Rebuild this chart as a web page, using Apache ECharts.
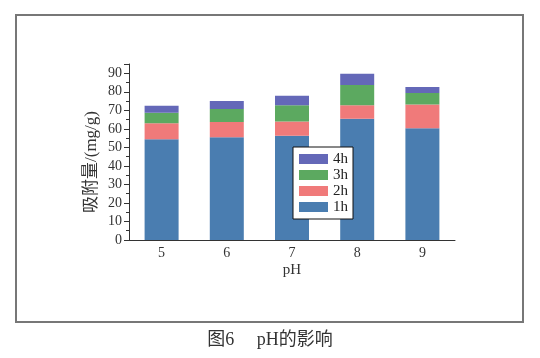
<!DOCTYPE html>
<html><head><meta charset="utf-8">
<script src="https://cdn.jsdelivr.net/npm/echarts@6/dist/echarts.min.js"></script>
<style>html,body{margin:0;padding:0;background:#fff;}#c{width:540px;height:358px;}</style>
</head><body><div id="c"></div>
<script>
const categories = ['5', '6', '7', '8', '9'];
const s1h = [54.4, 55.4, 56.3, 65.5, 60.3];
const s2h = [8.6, 8.3, 7.6, 7.2, 12.8];
const s3h = [5.7, 7.0, 8.8, 11.0, 6.3];
const s4h = [3.8, 4.3, 5.1, 6.1, 3.2];
const seriesNames = ['1h', '2h', '3h', '4h'];
const colors = ['#4a7db0', '#f07a7a', '#5ca960', '#6468b8'];
const yAxisName = '吸附量/(mg/g)';
const xAxisName = 'pH';
const caption = '图6\u3000 pH的影响';

const serif = '"Liberation Serif", "DejaVu Serif", "Noto Sans CJK SC", serif';
const chart = echarts.init(document.getElementById('c'));
const vals = [s1h, s2h, s3h, s4h];
chart.setOption({
  animation: false,
  textStyle: { fontFamily: serif },
  grid: { left: 129, right: 85, top: 64, bottom: 118 },
  legend: {
    orient: 'vertical', left: 293, top: 147,
    data: ['4h', '3h', '2h', '1h'],
    itemWidth: 29, itemHeight: 10, itemGap: 0,
    padding: [4, 5, 4, 6],
    borderColor: '#111', borderWidth: 1,
    backgroundColor: '#fff',
    textStyle: { fontFamily: serif, fontSize: 15, lineHeight: 16, height: 16, color: '#222' },
    icon: 'rect'
  },
  xAxis: {
    type: 'category', data: categories,
    name: xAxisName, nameLocation: 'middle', nameGap: 23,
    nameMoveOverlap: false,
    nameTextStyle: { fontFamily: serif, fontSize: 15, color: '#333' },
    axisLine: { lineStyle: { color: '#333', width: 1 } },
    axisTick: { alignWithLabel: true, length: 3, lineStyle: { color: '#333' } },
    axisLabel: { fontFamily: serif, fontSize: 14, color: '#333', margin: 6 }
  },
  yAxis: {
    type: 'value', min: 0, max: 95, interval: 10,
    name: yAxisName, nameLocation: 'middle', nameGap: 29,
    nameMoveOverlap: false,
    nameTextStyle: { fontFamily: serif, fontSize: 17, color: '#333', padding: [0, 20, 0, 0] },
    axisLine: { show: true, lineStyle: { color: '#333', width: 1 } },
    axisTick: { show: true, length: 5, lineStyle: { color: '#333' } },
    minorTick: { show: true, splitNumber: 2, length: 3, lineStyle: { color: '#333' } },
    splitLine: { show: false },
    axisLabel: { fontFamily: serif, fontSize: 14, color: '#333', margin: 7, showMaxLabel: false }
  },
  series: seriesNames.map((n, i) => ({
    name: n, type: 'bar', stack: 'total', data: vals[i],
    barWidth: 34, itemStyle: { color: colors[i] }
  })),
  graphic: [
    { type: 'rect', shape: { x: 16, y: 15, width: 507, height: 307 },
      style: { fill: null, stroke: '#777', lineWidth: 2 }, silent: true, z: -1 },
    { type: 'text', left: 'center', top: 331,
      style: { text: caption, fontFamily: serif, fontSize: 18, fill: '#333' } }
  ]
});
</script></body></html>
